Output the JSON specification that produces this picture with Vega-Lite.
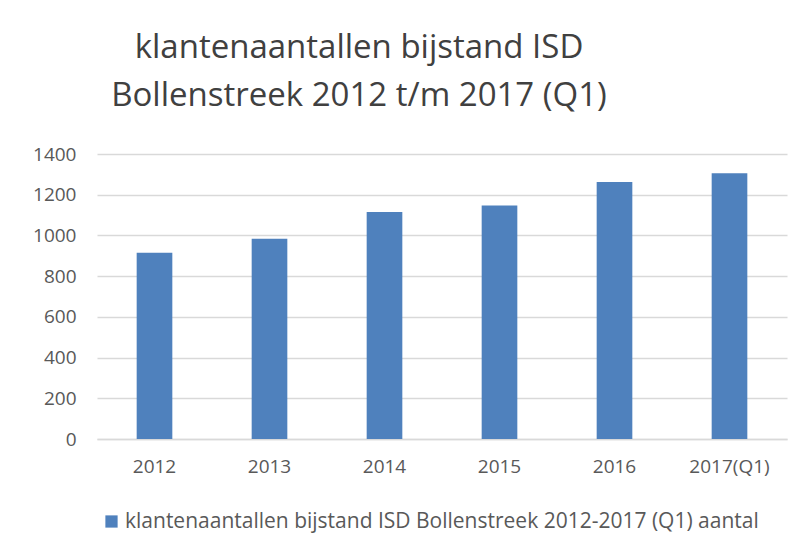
{
  "$schema": "https://vega.github.io/schema/vega-lite/v6.json",
  "width": 690,
  "height": 285,
  "autosize": {"type": "none"},
  "padding": {"left": 97, "top": 154, "right": 18, "bottom": 116},
  "background": "white",
  "title": {
    "text": ["klantenaantallen bijstand ISD", "Bollenstreek 2012 t/m 2017 (Q1)"],
    "font": "Open Sans",
    "fontSize": 33,
    "fontWeight": "normal",
    "color": "#404040",
    "anchor": "middle",
    "frame": "group",
    "dx": -83,
    "lineHeight": 48,
    "offset": 32
  },
  "data": {
    "values": [
      {"jaar": "2012", "aantal": 915, "serie": "klantenaantallen bijstand ISD Bollenstreek 2012-2017 (Q1) aantal"},
      {"jaar": "2013", "aantal": 984, "serie": "klantenaantallen bijstand ISD Bollenstreek 2012-2017 (Q1) aantal"},
      {"jaar": "2014", "aantal": 1115, "serie": "klantenaantallen bijstand ISD Bollenstreek 2012-2017 (Q1) aantal"},
      {"jaar": "2015", "aantal": 1147, "serie": "klantenaantallen bijstand ISD Bollenstreek 2012-2017 (Q1) aantal"},
      {"jaar": "2016", "aantal": 1262, "serie": "klantenaantallen bijstand ISD Bollenstreek 2012-2017 (Q1) aantal"},
      {"jaar": "2017(Q1)", "aantal": 1306, "serie": "klantenaantallen bijstand ISD Bollenstreek 2012-2017 (Q1) aantal"}
    ]
  },
  "mark": {"type": "bar"},
  "encoding": {
    "x": {
      "field": "jaar",
      "type": "nominal",
      "sort": null,
      "scale": {"paddingInner": 0.69, "paddingOuter": 0.345},
      "axis": {
        "title": null,
        "labelAngle": 0,
        "labelFont": "Open Sans",
        "labelFontSize": 19,
        "labelColor": "#595959",
        "labelPadding": 18,
        "ticks": false,
        "domainColor": "#d9d9d9",
        "domainWidth": 1.5
      }
    },
    "y": {
      "field": "aantal",
      "type": "quantitative",
      "scale": {"domain": [0, 1400]},
      "axis": {
        "title": null,
        "format": "d",
        "values": [0, 200, 400, 600, 800, 1000, 1200, 1400],
        "labelFont": "Open Sans",
        "labelFontSize": 19,
        "labelColor": "#595959",
        "labelPadding": 21,
        "ticks": false,
        "domain": false,
        "gridColor": "#d9d9d9",
        "gridWidth": 1.5
      }
    },
    "color": {
      "field": "serie",
      "type": "nominal",
      "scale": {"range": ["#4F81BD"]},
      "legend": {
        "title": null,
        "orient": "none",
        "legendX": 4,
        "legendY": 357,
        "symbolType": "square",
        "symbolSize": 150,
        "symbolOpacity": 1,
        "symbolStrokeWidth": 0,
        "labelFont": "Open Sans",
        "labelFontSize": 21,
        "labelColor": "#595959",
        "labelOffset": 3,
        "labelLimit": 800
      }
    }
  },
  "config": {
    "view": {"stroke": null}
  }
}
